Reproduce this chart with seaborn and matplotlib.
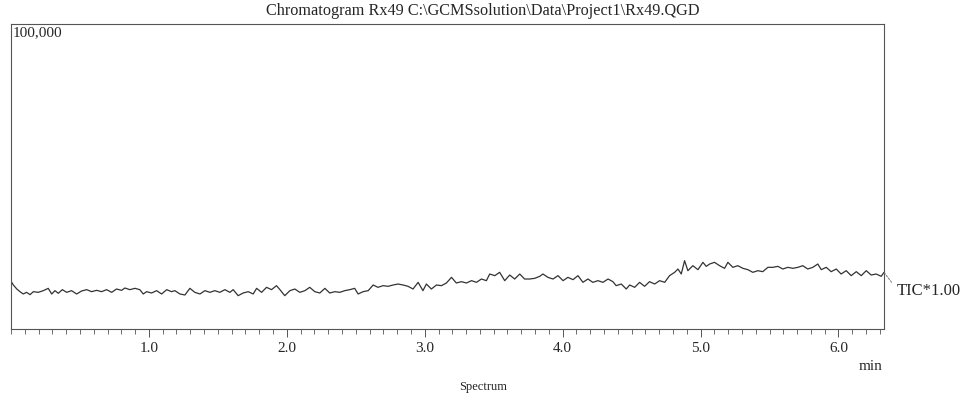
import seaborn as sns
import pandas as pd
import matplotlib
matplotlib.use("Agg")
import matplotlib.pyplot as plt
from matplotlib.ticker import MultipleLocator, FixedLocator

# retention time (min)
time_min = [
    0.005, 0.017, 0.042, 0.065, 0.089, 0.113, 0.138, 0.162, 0.198, 0.234,
    0.270, 0.295, 0.319, 0.343, 0.372, 0.404, 0.439, 0.476, 0.512, 0.549,
    0.584, 0.621, 0.657, 0.693, 0.730, 0.765, 0.802, 0.826, 0.862, 0.899,
    0.934, 0.959, 0.983, 1.019, 1.056, 1.092, 1.129, 1.164, 1.188, 1.225,
    1.261, 1.297, 1.333, 1.370, 1.406, 1.442, 1.478, 1.514, 1.551, 1.587,
    1.611, 1.647, 1.683, 1.720, 1.756, 1.781, 1.817, 1.853, 1.889, 1.925,
    1.950, 1.985, 2.022, 2.058, 2.094, 2.131, 2.166, 2.203, 2.239, 2.276,
    2.311, 2.348, 2.384, 2.420, 2.457, 2.492, 2.517, 2.553, 2.590, 2.626,
    2.661, 2.698, 2.734, 2.771, 2.806, 2.843, 2.879, 2.915, 2.952, 2.987,
    3.012, 3.048, 3.085, 3.121, 3.157, 3.194, 3.229, 3.266, 3.302, 3.339,
    3.375, 3.411, 3.447, 3.471, 3.508, 3.543, 3.580, 3.616, 3.652, 3.689,
    3.724, 3.761, 3.797, 3.834, 3.857, 3.893, 3.930, 3.966, 4.003, 4.038,
    4.075, 4.111, 4.147, 4.183, 4.219, 4.256, 4.292, 4.329, 4.364, 4.388,
    4.425, 4.461, 4.486, 4.522, 4.558, 4.594, 4.630, 4.667, 4.703, 4.740,
    4.775, 4.812, 4.836, 4.860, 4.884, 4.908, 4.944, 4.981, 5.017, 5.041,
    5.066, 5.101, 5.138, 5.174, 5.198, 5.234, 5.270, 5.307, 5.343, 5.379,
    5.415, 5.451, 5.488, 5.524, 5.561, 5.596, 5.633, 5.669, 5.706, 5.741,
    5.777, 5.814, 5.850, 5.875, 5.911, 5.947, 5.984, 6.019, 6.056, 6.092,
    6.129, 6.165, 6.201, 6.237, 6.273, 6.310, 6.330,
]

# total ion current (counts)
tic = [
    15300, 14430, 13110, 12240, 11480, 12020, 11260, 12240, 12020, 12570,
    13330, 11480, 12570, 11700, 12900, 12020, 12570, 11480, 12460, 12900,
    12240, 12680, 12240, 12900, 12020, 13110, 12680, 13440, 12900, 13330,
    12900, 11480, 12240, 11800, 12570, 11480, 12900, 12240, 12570, 11480,
    11150, 13330, 12020, 11480, 12570, 12020, 12570, 12020, 12900, 12020,
    12900, 10930, 11800, 12240, 11480, 13330, 12020, 13660, 12900, 14210,
    12900, 10930, 12570, 13110, 12020, 12570, 13660, 12240, 11800, 13330,
    11800, 12240, 12020, 12570, 12900, 13330, 11480, 12240, 12570, 14430,
    13660, 14210, 13990, 14430, 14750, 14430, 13990, 13110, 15300, 12570,
    14750, 13110, 14430, 14210, 15080, 16940, 15080, 15520, 15080, 15850,
    15300, 16390, 15850, 18030, 17490, 18580, 15850, 17700, 16390, 18030,
    16390, 16390, 16610, 17270, 18030, 16940, 16390, 17490, 15850, 16940,
    16180, 17490, 15300, 16390, 15300, 15850, 15300, 16390, 15520, 14210,
    14750, 13110, 14430, 13660, 15300, 13990, 15520, 14750, 15850, 15300,
    17490, 18580, 19670, 18030, 22400, 19120, 20760, 19450, 21860, 20540,
    21310, 21860, 20760, 19890, 21860, 20220, 20760, 19890, 19450, 18580,
    19120, 18800, 20220, 20220, 20540, 19670, 20220, 19890, 20220, 20760,
    19670, 20220, 21310, 19450, 20220, 18800, 19670, 18030, 19120, 17490,
    18800, 17490, 19120, 17700, 18030, 17270, 18580,
]

major_ticks = [1.0, 2.0, 3.0, 4.0, 5.0, 6.0]
major_labels = ["1.0", "2.0", "3.0", "4.0", "5.0", "6.0"]

title = "Chromatogram Rx49 C:\\GCMSsolution\\Data\\Project1\\Rx49.QGD"

df = pd.DataFrame({"time": time_min, "tic": tic})

sns.set_style("white")
plt.rcParams["font.family"] = ["Liberation Serif", "DejaVu Serif"]

fig = plt.figure(figsize=(9.66, 4.10), dpi=100)
ax = fig.add_axes([11 / 966, 80 / 410, 873 / 966, 305 / 410])

sns.lineplot(data=df, x="time", y="tic", ax=ax, color="#333333", linewidth=0.9)

ax.set_xlim(0, 6.33)
ax.set_ylim(0, 100000)
ax.set_xlabel("")
ax.set_ylabel("")
ax.set_yticks([])

ax.xaxis.set_major_locator(FixedLocator(major_ticks))
ax.set_xticklabels(major_labels, fontsize=11)
ax.xaxis.set_minor_locator(MultipleLocator(0.1))
ax.tick_params(axis="x", which="major", direction="out", length=6, width=0.7,
               color="#555555", pad=3, bottom=True)
ax.tick_params(axis="x", which="minor", direction="out", length=3.5, width=0.6,
               color="#555555", bottom=True)

for s in ax.spines.values():
    s.set_color("#555555")
    s.set_linewidth(0.8)

ax.text(0.002, 0.995, "100,000", transform=ax.transAxes, ha="left", va="top",
        fontsize=11)
ax.text(0.998, -0.12, "min", transform=ax.transAxes, ha="right", va="center",
        fontsize=11)

# trace label with dashed leader
ax.annotate("TIC*1.00", xy=(time_min[-1], tic[-1]), xytext=(9, -13),
            textcoords="offset points", ha="left", va="center", fontsize=12,
            annotation_clip=False,
            arrowprops=dict(arrowstyle="-", linestyle=(0, (2, 1.5)),
                            color="#777777", lw=0.7, shrinkA=2, shrinkB=0,
                            relpos=(0, 0.6)))

fig.text(0.5, 0.972, title, ha="center", va="center", fontsize=11.7)
fig.text(0.5, 0.056, "Spectrum", ha="center", va="center", fontsize=9)

plt.savefig("out.png", dpi=100)
